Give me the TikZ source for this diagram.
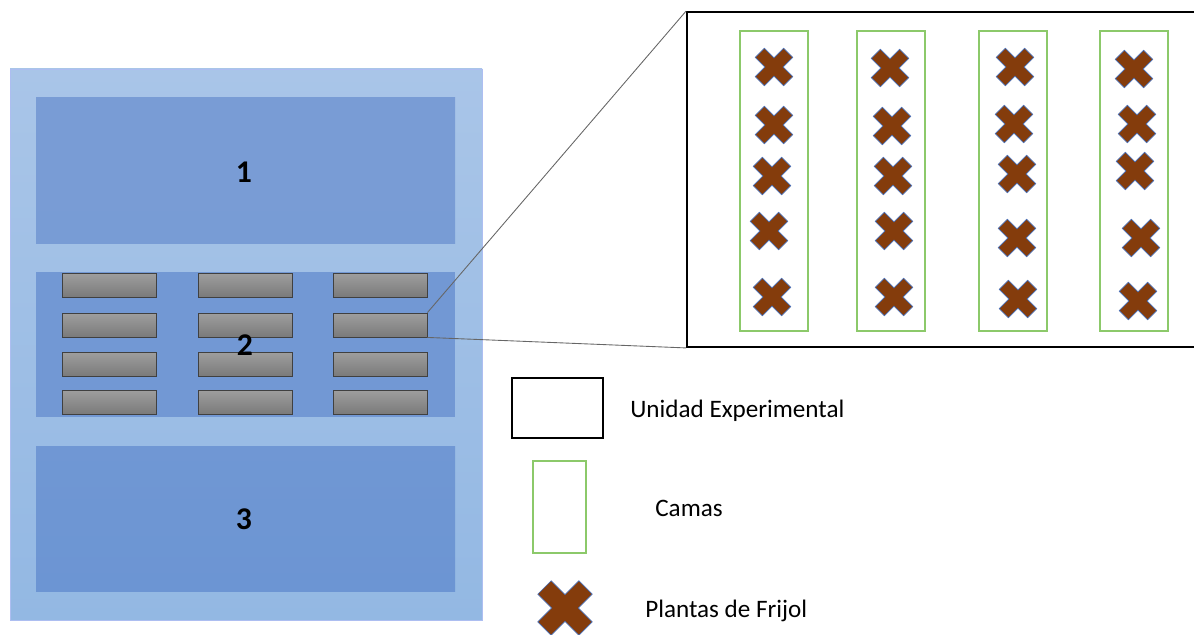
\documentclass[tikz,border=0pt]{standalone}
\usepackage{fontspec}
\setmainfont{Carlito}
\usepackage{tikz}
\usetikzlibrary{shadings}

\definecolor{campo}{HTML}{A9C5E8}
\definecolor{campob}{HTML}{93B8E3}
\definecolor{bloque}{HTML}{799CD5}
\definecolor{bloqueb}{HTML}{6C95D3}
\definecolor{frijol}{HTML}{843C0C}
\definecolor{borde}{HTML}{4A6FB5}
\definecolor{cama}{HTML}{8CC96A}

\begin{document}
\begin{tikzpicture}[x=0.02cm,y=-0.02cm,
	parcela/.style={draw=black!75,line width=0.5pt,top color=black!38,bottom color=black!52,minimum width=1.88cm,minimum height=0.48cm,inner sep=0pt},
	cama/.style={draw=cama,line width=0.8pt,minimum width=1.36cm,minimum height=6cm,inner sep=0pt},
	num/.style={font=\fontsize{18}{19}\selectfont\bfseries},
	leyenda/.style={font=\fontsize{14.3}{16}\selectfont,anchor=west,inner sep=0pt},
	planta/.pic={\filldraw[fill=frijol,draw=borde,line width=0.4pt,rotate=45,scale=#1]
		(6.5,20)--(6.5,6.5)--(20,6.5)--(20,-6.5)--(6.5,-6.5)--(6.5,-20)--(-6.5,-20)--(-6.5,-6.5)
		--(-20,-6.5)--(-20,6.5)--(-6.5,6.5)--(-6.5,20)--cycle;}]
	\useasboundingbox (0,0) rectangle (1194,635);
	% campo y bloques
	\shade[top color=campo,bottom color=campob] (10,69) rectangle (482,620);
	\draw[campob!80!blue!60,line width=0.4pt] (10,69) rectangle (482,620);
	\shade[top color=bloque,bottom color=bloque!95!bloqueb] (36,98) rectangle (455,243);
	\fill[bloque!50!bloqueb] (36,272) rectangle (455,417);
	\shade[top color=bloque!30!bloqueb,bottom color=bloqueb] (36,446) rectangle (455,591);
	\node[num] (b1) at (244,172) {1};
	\node[num] (b3) at (244,519) {3};
	% parcelas del bloque 2
	\foreach \y [count=\r] in {285,325,364,402}
		\foreach \x [count=\c] in {109,245,380}
			\node[parcela] (p\r\c) at (\x,\y) {};
	\node[num] (b2) at (245,345) {2};
	% unidad experimental ampliada
	\node[draw,line width=1.1pt,minimum width=10.3cm,minimum height=6.7cm,inner sep=0pt] (ue) at (944.5,179.5) {};
	\draw[black!60,line width=0.5pt] (p23.north east) -- (ue.north west);
	\draw[black!60,line width=0.5pt] (p23.south east) -- (ue.south west);
	\foreach \x [count=\c] in {774,891,1013,1134}
		\node[cama] (c\c) at (\x,181) {};
	\foreach \x/\y in {774/67,774/125,772/176,769/231,772/297,
		890/68,892/126,893/176,894/231,894/297,
		1015/67,1014/124,1017/174,1017/238,1018/299,
		1134/69,1137/124,1135/171,1141/238,1138/301}
		\pic at (\x,\y) {planta=1};
	% leyenda
	\node[draw,line width=0.8pt,minimum width=1.82cm,minimum height=1.2cm,inner sep=0pt] (l1) at (557.5,408) {};
	\node[leyenda] (t1) at (630,411) {Unidad Experimental};
	\node[draw=cama,line width=0.8pt,minimum width=1.06cm,minimum height=1.84cm,inner sep=0pt] (l2) at (559.5,507) {};
	\node[leyenda] (t2) at (655,508) {Camas};
	\pic at (565,608) {planta=1.45};
	\node[leyenda] (t3) at (645,611) {Plantas de Frijol};
\end{tikzpicture}
\end{document}
